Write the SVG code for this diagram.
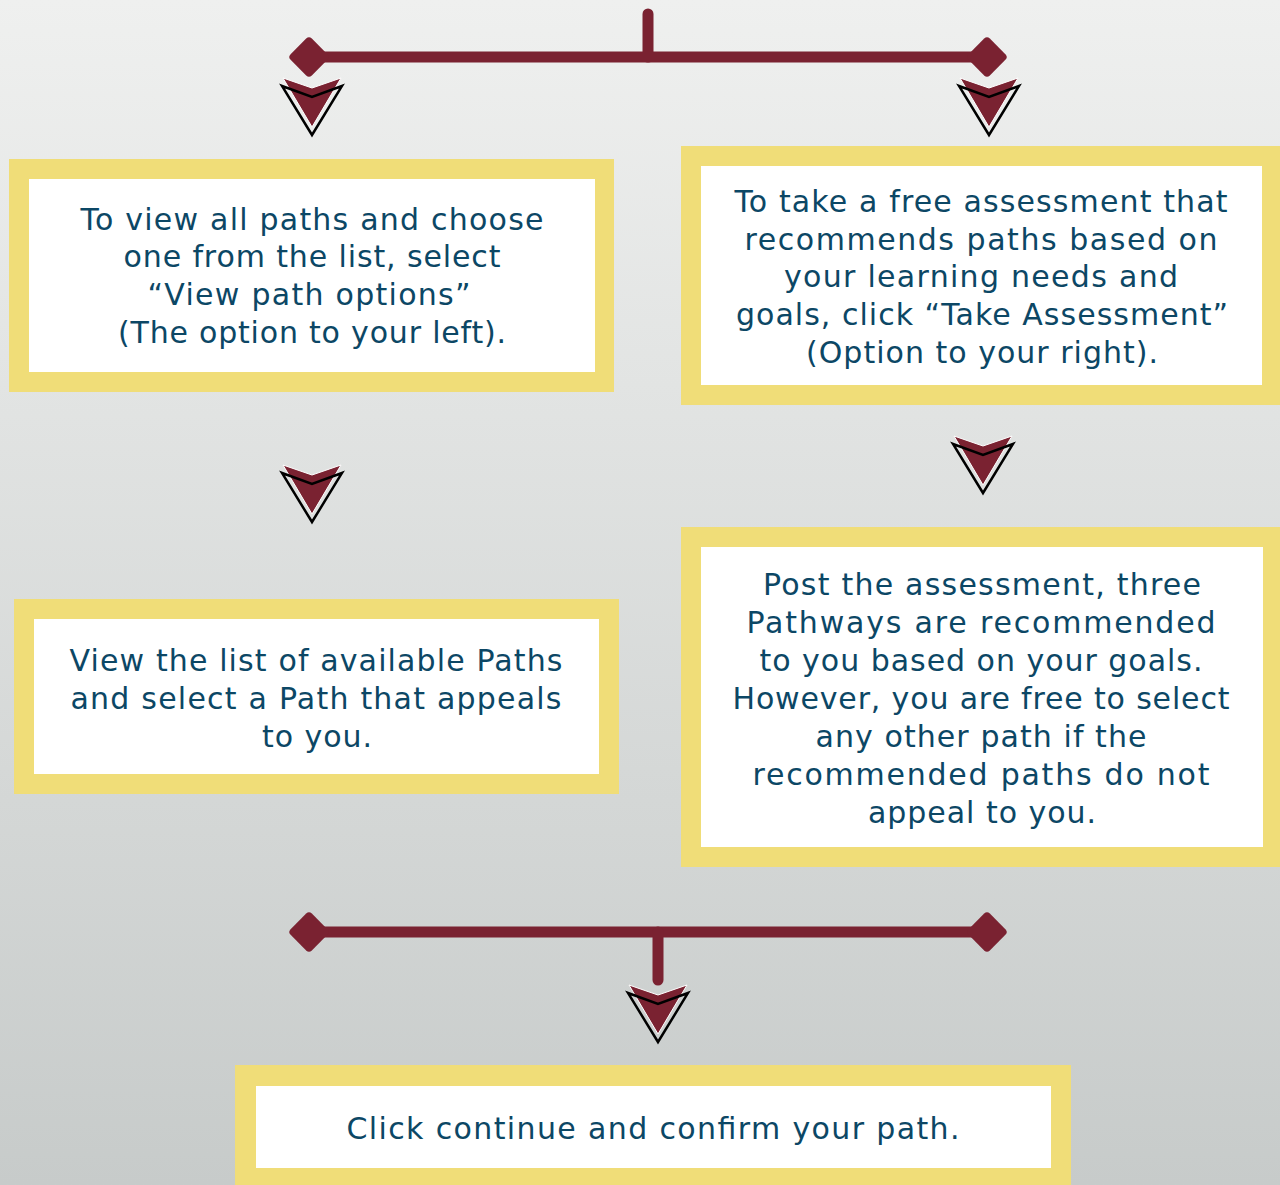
<svg xmlns="http://www.w3.org/2000/svg" width="1280" height="1185" viewBox="0 0 1280 1185">
<defs>
<linearGradient id="bg" x1="0" y1="0" x2="0" y2="1">
<stop offset="0" stop-color="#eff0ef"/>
<stop offset="1" stop-color="#c7cbca"/>
</linearGradient>
<g id="arrow">
<polygon points="-29,-8 0,2 29,-8 0,41" fill="#7a2231" stroke="#ffffff" stroke-width="1"/>
<polygon points="-30,0 0,11 30,0 0,49" fill="none" stroke="#000" stroke-width="2.5" stroke-linejoin="miter"/>
</g>
<rect id="dia" x="-15" y="-15" width="30" height="30" rx="4" fill="#7a2231" transform="rotate(45)"/>
</defs>
<style>
.outer{fill:#f0dd78}
.inner{fill:#ffffff}
.t{font-family:"DejaVu Sans","Open Sans",sans-serif;font-size:30px;fill:#0c4765;text-anchor:middle}
.ln{stroke:#7a2231;stroke-width:11;stroke-linecap:round;fill:none}
</style>
<rect width="1280" height="1185" fill="url(#bg)"/>
<g id="connectors">
<line class="ln" x1="648" y1="14" x2="648" y2="57"/>
<line class="ln" x1="310" y1="57" x2="987" y2="57"/>
<use href="#dia" x="309" y="57"/>
<use href="#dia" x="987" y="57"/>
<use href="#arrow" x="312" y="86"/>
<use href="#arrow" x="989" y="86"/>
<use href="#arrow" x="312" y="473"/>
<use href="#arrow" x="983" y="444"/>
<line class="ln" x1="310" y1="932" x2="987" y2="932"/>
<line class="ln" x1="658" y1="932" x2="658" y2="980"/>
<use href="#dia" x="309" y="932"/>
<use href="#dia" x="987" y="932"/>
<use href="#arrow" x="658" y="993"/>
</g>
<g id="node1">
<rect class="outer" x="9" y="159" width="605" height="233"/>
<rect class="inner" x="29" y="179" width="566" height="193"/>
<text class="t" x="312" y="230" textLength="463" lengthAdjust="spacing">To view all paths and choose</text>
<text class="t" x="312" y="267" textLength="377" lengthAdjust="spacing">one from the list, select</text>
<text class="t" x="309" y="305" textLength="323" lengthAdjust="spacing">“View path options”</text>
<text class="t" x="312" y="343" textLength="388" lengthAdjust="spacing">(The option to your left).</text>
</g>
<g id="node2">
<rect class="outer" x="681" y="146" width="599" height="259"/>
<rect class="inner" x="701" y="166" width="561" height="219"/>
<text class="t" x="981" y="212" textLength="493" lengthAdjust="spacing">To take a free assessment that</text>
<text class="t" x="981" y="250" textLength="473" lengthAdjust="spacing">recommends paths based on</text>
<text class="t" x="981" y="287" textLength="394" lengthAdjust="spacing">your learning needs and</text>
<text class="t" x="982" y="325" textLength="492" lengthAdjust="spacing">goals, click “Take Assessment”</text>
<text class="t" x="982" y="363" textLength="352" lengthAdjust="spacing">(Option to your right).</text>
</g>
<g id="node3">
<rect class="outer" x="14" y="599" width="605" height="195"/>
<rect class="inner" x="34" y="619" width="565" height="155"/>
<text class="t" x="316" y="671" textLength="493" lengthAdjust="spacing">View the list of available Paths</text>
<text class="t" x="316" y="709" textLength="491" lengthAdjust="spacing">and select a Path that appeals</text>
<text class="t" x="317" y="747" textLength="110" lengthAdjust="spacing">to you.</text>
</g>
<g id="node4">
<rect class="outer" x="681" y="527" width="599" height="340"/>
<rect class="inner" x="701" y="547" width="562" height="300"/>
<text class="t" x="982" y="595" textLength="438" lengthAdjust="spacing">Post the assessment, three</text>
<text class="t" x="981" y="633" textLength="469" lengthAdjust="spacing">Pathways are recommended</text>
<text class="t" x="981" y="671" textLength="443" lengthAdjust="spacing">to you based on your goals.</text>
<text class="t" x="981" y="709" textLength="497" lengthAdjust="spacing">However, you are free to select</text>
<text class="t" x="981" y="747" textLength="331" lengthAdjust="spacing">any other path if the</text>
<text class="t" x="981" y="785" textLength="457" lengthAdjust="spacing">recommended paths do not</text>
<text class="t" x="982" y="823" textLength="228" lengthAdjust="spacing">appeal to you.</text>
</g>
<g id="node5">
<rect class="outer" x="235" y="1065" width="836" height="125"/>
<rect class="inner" x="256" y="1086" width="795" height="82"/>
<text class="t" x="653" y="1139" textLength="613" lengthAdjust="spacing">Click continue and confirm your path.</text>
</g>
</svg>
